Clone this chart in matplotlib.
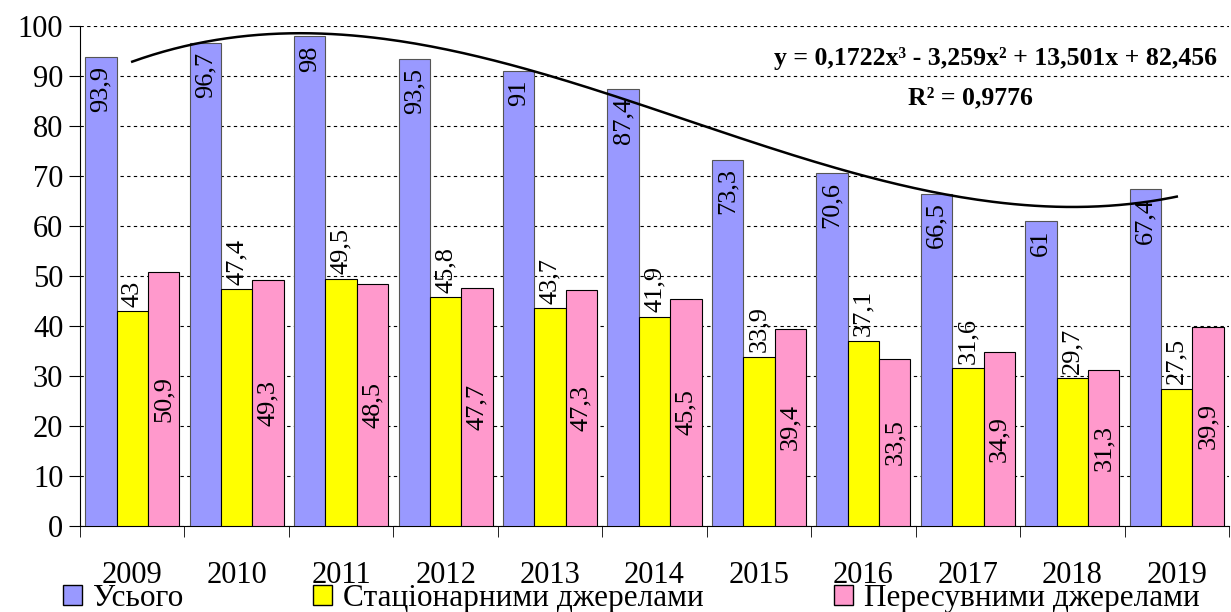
import matplotlib
matplotlib.use('Agg')
import matplotlib.pyplot as plt
import numpy as np
from matplotlib.patches import Patch

plt.rcParams['font.family'] = ['Liberation Serif', 'DejaVu Serif']

years = ['2009', '2010', '2011', '2012', '2013', '2014', '2015', '2016', '2017', '2018', '2019']
total = [93.9, 96.7, 98, 93.5, 91, 87.4, 73.3, 70.6, 66.5, 61, 67.4]
stationary = [43, 47.4, 49.5, 45.8, 43.7, 41.9, 33.9, 37.1, 31.6, 29.7, 27.5]
mobile = [50.9, 49.3, 48.5, 47.7, 47.3, 45.5, 39.4, 33.5, 34.9, 31.3, 39.9]
series_names = ['Усього', 'Стаціонарними джерелами', 'Пересувними джерелами']
eq_text = 'y = 0,1722x³ - 3,259x² + 13,501x + 82,456'
r2_text = 'R² = 0,9776'


def fmt(v):
    s = ('%g' % v)
    return s.replace('.', ',')


fig = plt.figure(figsize=(12.31, 6.12), dpi=100)
ax = fig.add_axes([80 / 1231, 86 / 612, 1149 / 1231, 500 / 612])

x = np.arange(len(years))
w = 0.3
ax.bar(x - w, total, w, color='#9999FF', edgecolor='#555555', linewidth=0.8, zorder=3)
ax.bar(x, stationary, w, color='#FFFF00', edgecolor='black', linewidth=0.8, zorder=3)
ax.bar(x + w, mobile, w, color='#FF99CC', edgecolor='black', linewidth=0.8, zorder=3)

fs_lbl = 19
for xi, v in zip(x, total):
    ax.text(xi - w, v - 1.8, fmt(v), rotation=90, ha='center', va='top', fontsize=fs_lbl, zorder=4)
for xi, v in zip(x, stationary):
    ax.text(xi, v + 0.8, fmt(v), rotation=90, ha='center', va='bottom', fontsize=fs_lbl, zorder=4)
for xi, v in zip(x, mobile):
    ax.text(xi + w, v / 2, fmt(v), rotation=90, ha='center', va='center', fontsize=fs_lbl, zorder=4)

# cubic trend on totals (x = 1..11 as in Excel)
coef = np.polyfit(np.arange(1, len(total) + 1), total, 3)
xs = np.linspace(1, len(total), 200)
ax.plot(xs - 1, np.polyval(coef, xs), color='black', linewidth=1.8, zorder=5)

ax.text(0.797, 0.936, eq_text, transform=ax.transAxes, ha='center', va='center',
        fontsize=18.5, fontweight='bold', zorder=6)
ax.text(0.775, 0.856, r2_text, transform=ax.transAxes, ha='center', va='center',
        fontsize=18.5, fontweight='bold', zorder=6)

ax.set_xlim(-0.5, len(years) - 0.5)
ax.set_ylim(0, 100)
ax.set_yticks(np.arange(0, 101, 10))
ax.tick_params(axis='y', labelsize=22, length=8, direction='out', pad=4)
ax.set_xticks(x)
ax.set_xticklabels(years)
ax.tick_params(axis='x', labelsize=22, length=0, pad=25)
ax.set_xticks(np.arange(-0.5, len(years), 1), minor=True)
ax.tick_params(axis='x', which='minor', length=8, direction='out')

ax.yaxis.grid(True, color='black', linestyle=(0, (3, 3)), linewidth=0.8)
ax.set_axisbelow(True)
for s in ['top', 'right']:
    ax.spines[s].set_visible(False)

handles = [Patch(facecolor='#9999FF', edgecolor='black'),
           Patch(facecolor='#FFFF00', edgecolor='black'),
           Patch(facecolor='#FF99CC', edgecolor='black')]
fig.legend(handles, series_names, loc='lower left', bbox_to_anchor=(50 / 1231, -0.022),
           ncol=3, frameon=False, fontsize=22.5, handlelength=0.62, handleheight=0.62,
           handletextpad=0.35, columnspacing=4.15, borderaxespad=0)

fig.savefig('out.png', dpi=100)
